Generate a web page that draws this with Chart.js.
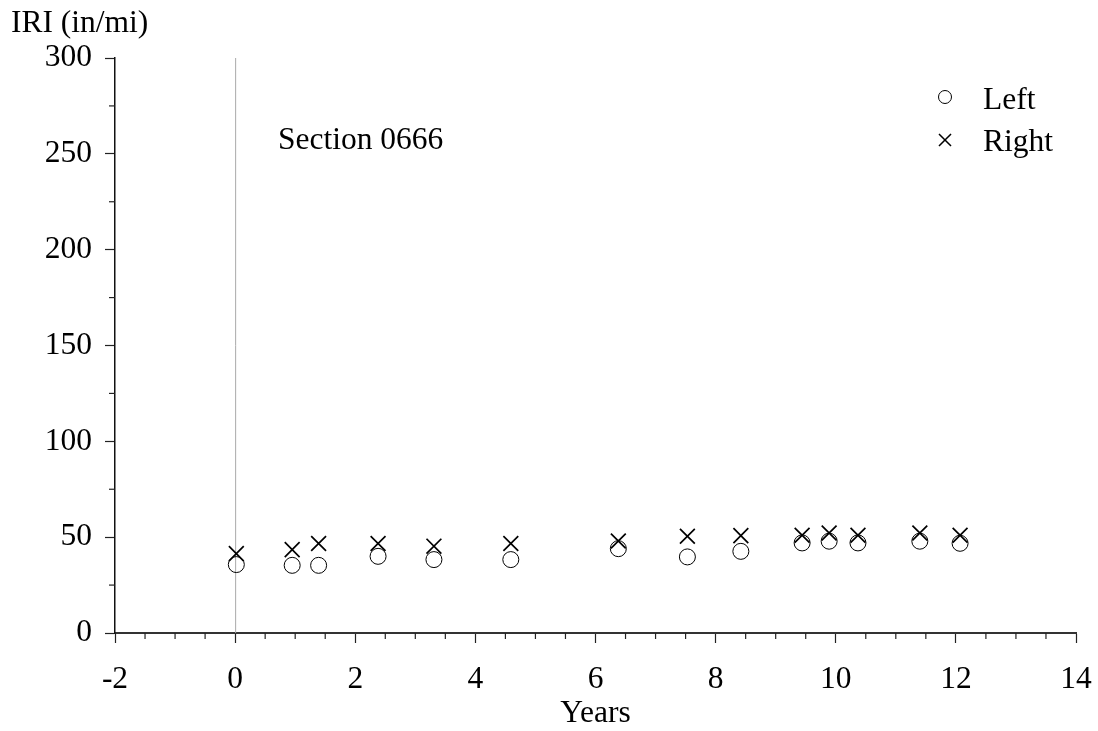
<!DOCTYPE html>
<html>
<head>
<meta charset="utf-8">
<script src="https://cdn.jsdelivr.net/npm/chart.js@4.4.0/dist/chart.umd.min.js"></script>
<style>
html,body{margin:0;padding:0;background:#fff;}
canvas{display:block;}
</style>
</head>
<body>
<canvas id="c" width="1098" height="731"></canvas>
<script>
// Data
const yearsLeft  = [0.02, 0.95, 1.39, 2.38, 3.31, 4.59, 6.38, 7.53, 8.42, 9.44, 9.89, 10.37, 11.40, 12.07];
const iriLeft    = [35.7, 35.3, 35.3, 40.0, 38.3, 38.3, 44.0, 39.7, 42.6, 47.0, 47.9, 47.0, 47.9, 46.8];
const yearsRight = [0.02, 0.95, 1.39, 2.38, 3.31, 4.59, 6.38, 7.53, 8.42, 9.44, 9.89, 10.37, 11.40, 12.07];
const iriRight   = [41.4, 43.5, 46.7, 46.7, 45.3, 46.7, 48.0, 50.5, 50.8, 51.0, 52.2, 51.0, 52.2, 51.0];
const xTicks = [-2, 0, 2, 4, 6, 8, 10, 12, 14];
const yTicks = [0, 50, 100, 150, 200, 250, 300];
const seriesNames = ['Left', 'Right'];
const sectionLabel = 'Section 0666';
const xTitle = 'Years';
const yTitle = 'IRI (in/mi)';

const FONT = '"Liberation Serif", "Times New Roman", serif';
const FS = 31.5;

function pts(xs, ys){ return xs.map((x,i)=>({x:x, y:ys[i]})); }

const extras = {
  id: 'extras',
  beforeDatasetsDraw(chart){
    const ctx = chart.ctx, xs = chart.scales.x, ys = chart.scales.y, a = chart.chartArea;
    ctx.save();
    // vertical reference line at year 0
    const x0 = xs.getPixelForValue(0);
    ctx.strokeStyle = '#aaaaaa';
    ctx.lineWidth = 1;
    ctx.beginPath(); ctx.moveTo(x0+0.5, a.top); ctx.lineTo(x0+0.5, a.bottom); ctx.stroke();
    // minor ticks
    ctx.strokeStyle = '#222';
    ctx.lineWidth = 1.2;
    for (let v = -2; v <= 14.001; v += 0.5){
      if (Math.abs(v/2 - Math.round(v/2)) < 1e-6) continue;
      const px = xs.getPixelForValue(v);
      ctx.beginPath(); ctx.moveTo(px, a.bottom); ctx.lineTo(px, a.bottom+6); ctx.stroke();
    }
    for (let v = 0; v <= 300.001; v += 25){
      if (v % 50 === 0) continue;
      const py = ys.getPixelForValue(v);
      ctx.beginPath(); ctx.moveTo(a.left, py); ctx.lineTo(a.left-6, py); ctx.stroke();
    }
    ctx.restore();
  },
  afterDraw(chart){
    const ctx = chart.ctx;
    ctx.save();
    ctx.fillStyle = '#000';
    ctx.font = FS + 'px ' + FONT;
    ctx.textBaseline = 'alphabetic';
    ctx.textAlign = 'left';
    ctx.fillText(yTitle, 11, 32);
    ctx.fillText(sectionLabel, 278, 149);
    ctx.textAlign = 'center';
    ctx.fillText(xTitle, chart.scales.x.getPixelForValue(6), 722);
    // legend
    ctx.textAlign = 'left';
    ctx.fillText(seriesNames[0], 983, 109);
    ctx.fillText(seriesNames[1], 983, 151);
    ctx.strokeStyle = '#000';
    ctx.fillStyle = 'rgba(0,0,0,0)';
    ctx.lineWidth = 1;
    Chart.helpers.drawPoint(ctx, {pointStyle:'circle', radius:6.5, borderWidth:1}, 945, 97);
    ctx.lineWidth = 1.5;
    Chart.helpers.drawPoint(ctx, {pointStyle:'crossRot', radius:8.5, borderWidth:1.5}, 945, 140);
    ctx.restore();
  }
};

new Chart(document.getElementById('c'), {
  type: 'scatter',
  data: {
    datasets: [
      { label: seriesNames[0], data: pts(yearsLeft, iriLeft), pointStyle: 'circle', pointRadius: 8,
        pointBorderWidth: 1, borderColor: '#000', backgroundColor: 'rgba(0,0,0,0)', pointHoverRadius: 8 },
      { label: seriesNames[1], data: pts(yearsRight, iriRight), pointStyle: 'crossRot', pointRadius: 10.5,
        pointBorderWidth: 1.7, borderColor: '#000', backgroundColor: 'rgba(0,0,0,0)', pointHoverRadius: 10.5 }
    ]
  },
  options: {
    responsive: false,
    animation: false,
    devicePixelRatio: 1,
    layout: { padding: { top: 58, right: 22, left: 0, bottom: 0 } },
    plugins: { legend: { display: false }, tooltip: { enabled: false } },
    scales: {
      x: {
        type: 'linear', min: -2, max: 14,
        afterBuildTicks(s){ s.ticks = xTicks.map(v=>({value:v})); },
        afterFit(s){ s.height = 98; s.paddingLeft = 0; s.paddingRight = 0; },
        grid: { drawOnChartArea: false, drawTicks: true, tickLength: 10, tickColor: '#222', tickWidth: 1.2 },
        border: { display: true, color: '#333', width: 2 },
        ticks: { color: '#000', font: { family: FONT, size: FS }, padding: 18, maxRotation: 0, autoSkip: false }
      },
      y: {
        type: 'linear', min: 0, max: 300,
        afterBuildTicks(s){ s.ticks = yTicks.map(v=>({value:v})); },
        afterFit(s){ s.width = 115; s.paddingTop = 0; s.paddingBottom = 0; },
        grid: { drawOnChartArea: false, drawTicks: true, tickLength: 10, tickColor: '#222', tickWidth: 1.2 },
        border: { display: true, color: '#111', width: 1.5 },
        ticks: { color: '#000', font: { family: FONT, size: FS }, padding: 13, autoSkip: false }
      }
    }
  },
  plugins: [extras]
});
</script>
</body>
</html>
